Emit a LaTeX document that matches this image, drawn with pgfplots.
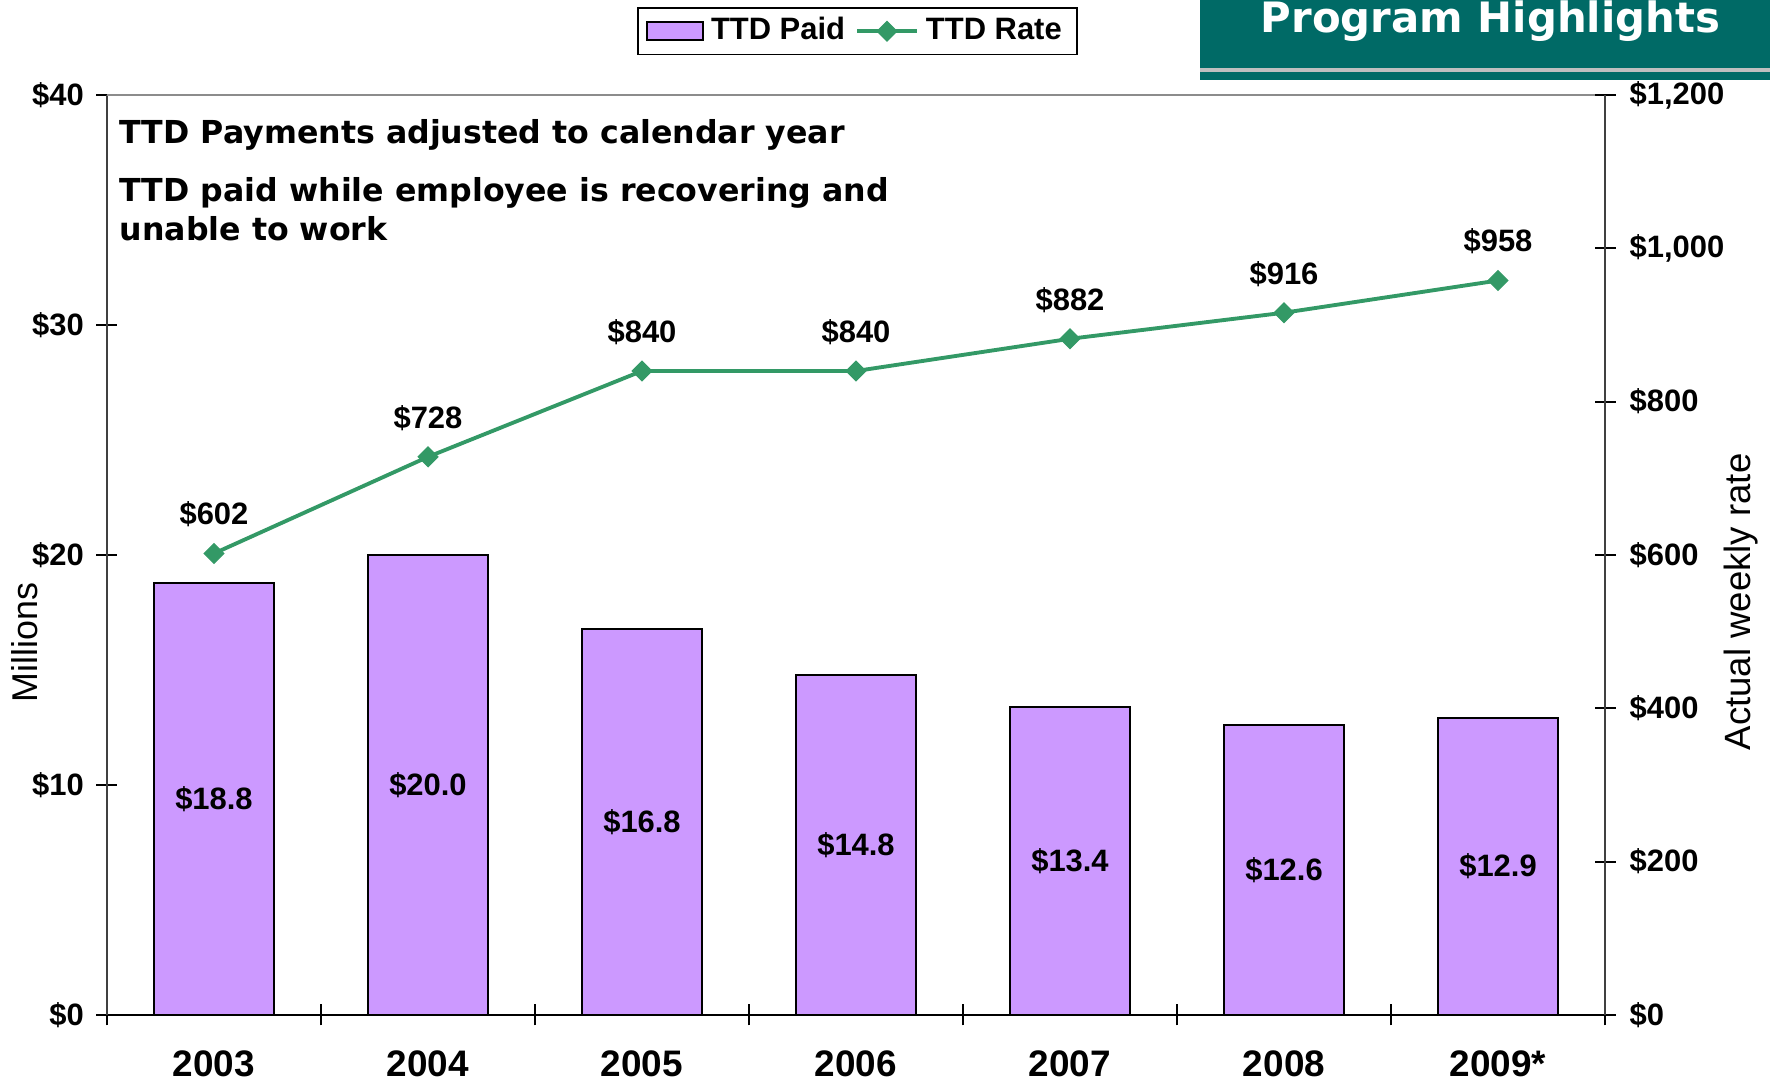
\documentclass[border=0pt]{standalone}
\usepackage{pgfplots}
\pgfplotsset{compat=1.18}
\usepackage{fontspec}
\setmainfont{Liberation Sans}
\newfontfamily\verd{DejaVu Sans}
\definecolor{barc}{HTML}{CC99FF}
\definecolor{linec}{HTML}{339966}
\definecolor{bannerc}{HTML}{006A66}
\newcommand{\lbl}{\bfseries\fontsize{8.8}{10}\selectfont}
\begin{document}
\begin{tikzpicture}
\clip (0mm,0mm) rectangle (177mm,108mm);
% banner
\fill[bannerc] (120mm,100mm) rectangle (177mm,108mm);
\fill[black!25] (120mm,100.8mm) rectangle (177mm,101.2mm);
\node[anchor=base, text=white, font=\verd\bfseries\fontsize{11.9}{13}\selectfont, inner sep=0pt] at (149.05mm,104.7mm) {Program Highlights};

\begin{axis}[
  at={(10.7mm,6.5mm)}, anchor=south west,
  scale only axis, width=149.8mm, height=92mm,
  xmin=-0.5, xmax=6.5, ymin=0, ymax=40,
  axis x line*=bottom, axis y line*=left,
  y axis line style={black!75, line width=0.6pt},
  x axis line style={black, line width=0.6pt},
  ytick={0,10,20,30,40}, yticklabels={\$0,\$10,\$20,\$30,\$40},
  xtick={-0.5,0.5,1.5,2.5,3.5,4.5,5.5,6.5}, xticklabels={},
  extra x ticks={0,1,2,3,4,5,6},
  extra x tick labels={2003,2004,2005,2006,2007,2008,2009*},
  extra x tick style={major tick length=0pt},
  tick align=center, major tick length=2.1mm,
  tick style={black, line width=0.5pt},
  yticklabel style={font=\lbl, anchor=east, inner sep=0pt, xshift=-1.2mm},
  xticklabel style={font=\bfseries\fontsize{10.5}{12}\selectfont, anchor=base, inner sep=0pt, yshift=-6.2mm},
  clip=false,
]
\addplot[ybar, bar width=12mm, fill=barc, draw=black, line width=0.6pt]
  coordinates {(0,18.8) (1,20.0) (2,16.8) (3,14.8) (4,13.4) (5,12.6) (6,12.9)};
\addplot[draw=none, mark=none, nodes near coords, point meta=explicit symbolic,
  every node near coord/.style={font=\lbl, anchor=center, text=black}]
  coordinates {(0,9.4)[\$18.8] (1,10.0)[\$20.0] (2,8.4)[\$16.8] (3,7.4)[\$14.8] (4,6.7)[\$13.4] (5,6.3)[\$12.6] (6,6.45)[\$12.9]};
\draw[black!45, line width=0.6pt] (rel axis cs:0,1) -- (rel axis cs:1,1);
\node[rotate=90, font=\fontsize{10.2}{12}\selectfont] at (axis description cs:-0.055,0.405) {Millions};
\end{axis}

\begin{axis}[
  at={(10.7mm,6.5mm)}, anchor=south west,
  scale only axis, width=149.8mm, height=92mm,
  xmin=-0.5, xmax=6.5, ymin=0, ymax=1200,
  axis x line=none, axis y line*=right,
  y axis line style={black!75, line width=0.6pt},
  ytick={0,200,400,600,800,1000,1200},
  yticklabels={\$0,\$200,\$400,\$600,\$800,{\$1,000},{\$1,200}},
  tick align=center, major tick length=2.1mm,
  tick style={black, line width=0.5pt},
  yticklabel style={font=\lbl, anchor=west, inner sep=0pt, xshift=1.35mm},
  clip=false,
  legend columns=2,
  legend style={at={(axis description cs:0.3538,1.0957)}, anchor=north west,
    draw=black, line width=0.5pt, font=\lbl, inner xsep=0.8mm, inner ysep=0.25mm,
    /tikz/every even column/.append style={column sep=0.3mm}},
]
\addlegendimage{legend image code/.code={\draw[draw=black,line width=0.6pt,fill=barc] (0mm,-0.9mm) rectangle (5.6mm,0.9mm);}}
\addlegendentry{TTD Paid}
\addplot[linec, line width=1.1pt, mark=square*, mark size=0.7mm,
  mark options={rotate=45, fill=linec, draw=linec, line width=0.3pt},
  nodes near coords, point meta=explicit symbolic,
  every node near coord/.style={font=\lbl, anchor=center, text=black, yshift=3.9mm}]
  coordinates {(0,602)[\$602] (1,728)[\$728] (2,840)[\$840] (3,840)[\$840] (4,882)[\$882] (5,916)[\$916] (6,958)[\$958]};
\addlegendentry{TTD Rate}
\node[rotate=90, font=\fontsize{10.4}{12}\selectfont] at (axis description cs:1.091,0.449) {Actual weekly rate};
\end{axis}

\node[anchor=base west, inner sep=0pt, font=\verd\bfseries\fontsize{9}{10}\selectfont] at (11.9mm,93.6mm) {TTD Payments adjusted to calendar year};
\node[anchor=base west, inner sep=0pt, font=\verd\bfseries\fontsize{9}{10}\selectfont] at (11.9mm,87.86mm) {TTD paid while employee is recovering and};
\node[anchor=base west, inner sep=0pt, font=\verd\bfseries\fontsize{9}{10}\selectfont] at (11.9mm,83.96mm) {unable to work};
\end{tikzpicture}
\end{document}
